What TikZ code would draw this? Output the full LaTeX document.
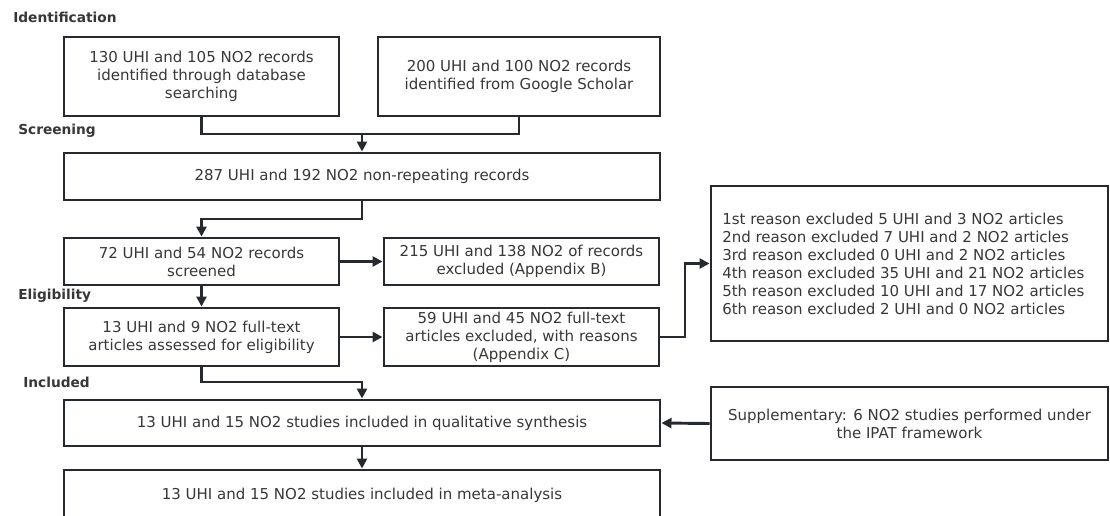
\documentclass[tikz,border=0pt]{standalone}
\usepackage{fontspec}
\setmainfont{DejaVu Sans}
\usetikzlibrary{arrows.meta}
\definecolor{linec}{RGB}{38,42,46}
\definecolor{textc}{RGB}{55,55,55}
\begin{document}
\begin{tikzpicture}[x=0.75pt,y=-0.75pt,
  box/.style={draw=linec, line width=2.2pt, text=textc, align=center,
    font=\fontsize{11.25}{13.5}\selectfont, inner sep=0pt},
  arr/.style={draw=linec, line width=2.2pt, -{Triangle[length=7.5pt,width=7.5pt]}},
  conn/.style={draw=linec, line width=2.2pt},
  stage/.style={anchor=west, text=textc, font=\bfseries\fontsize{10.3}{12}\selectfont, inner sep=0pt}]
\useasboundingbox (0,0) rectangle (1110,515);

\node[stage] (s1) at (13,17) {Identification};
\node[stage] (s2) at (18,131) {Screening};
\node[stage] (s3) at (18,296) {Eligibility};
\node[stage] (s4) at (23,382) {Included};

\node[box, minimum width=206.25pt, minimum height=59.25pt] (A) at (201.5,76.5)
  {130 UHI and 105 NO2 records\\identified through database\\searching};
\node[box, minimum width=211.5pt, minimum height=59.25pt] (B) at (519,76.5)
  {200 UHI and 100 NO2 records\\identified from Google Scholar};
\node[box, minimum width=447pt, minimum height=35.25pt] (C) at (362,176.5)
  {287 UHI and 192 NO2 non-repeating records};
\node[box, minimum width=206.25pt, minimum height=35.25pt] (D) at (201.5,261.5)
  {72 UHI and 54 NO2 records\\screened};
\node[box, minimum width=206.25pt, minimum height=35.25pt] (E) at (521.5,261.5)
  {215 UHI and 138 NO2 of records\\excluded (Appendix B)};
\node[box, minimum width=206.25pt, minimum height=43.5pt] (F) at (201.5,337)
  {13 UHI and 9 NO2 full-text\\articles assessed for eligibility};
\node[box, minimum width=206.25pt, minimum height=43.5pt] (G) at (521.5,337)
  {59 UHI and 45 NO2 full-text\\articles excluded, with reasons\\(Appendix C)};
\node[box, minimum width=297.75pt, minimum height=116.25pt] (H) at (909.5,263.5) {};
\node[anchor=west, align=left, text=textc, inner sep=0pt,
  font=\fontsize{11.25}{13.5}\selectfont] (Ht) at (722,263.5)
  {1st reason excluded 5 UHI and 3 NO2 articles\\
   2nd reason excluded 7 UHI and 2 NO2 articles\\
   3rd reason excluded 0 UHI and 2 NO2 articles\\
   4th reason excluded 35 UHI and 21 NO2 articles\\
   5th reason excluded 10 UHI and 17 NO2 articles\\
   6th reason excluded 2 UHI and 0 NO2 articles};
\node[box, minimum width=447pt, minimum height=34.5pt] (I) at (362,423)
  {13 UHI and 15 NO2 studies included in qualitative synthesis};
\node[box, minimum width=447pt, minimum height=37.5pt] (J) at (362,495)
  {13 UHI and 15 NO2 studies included in meta-analysis};
\node[box, minimum width=297.75pt, minimum height=54.75pt] (K) at (909.5,423.5)
  {Supplementary: 6 NO2 studies performed under\\the IPAT framework};

\coordinate (j1) at (362,134);
\coordinate (j2) at (362,219);
\coordinate (j3) at (685,337);
\coordinate (j4) at (362,382);

\draw[conn] (A.south) |- (j1) -| (B.south);
\draw[arr] (j1) -- (C.north);
\draw[arr] (C.south) -- (j2) -| (D.north);
\draw[arr] (D.east) -- (E.west);
\draw[arr] (D.south) -- (F.north);
\draw[arr] (F.east) -- (G.west);
\draw[arr] (G.east) -- (j3) |- (H.west);
\draw[arr] (F.south) |- (j4) -- (I.north);
\draw[arr] (K.west) -- (I.east);
\draw[arr] (I.south) -- (J.north);
\end{tikzpicture}
\end{document}
